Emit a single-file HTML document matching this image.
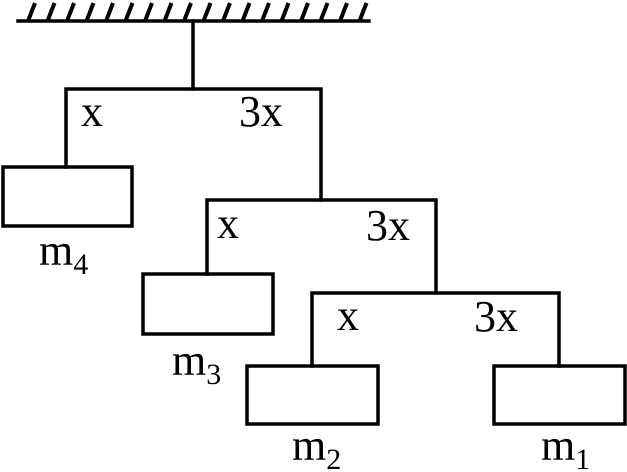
<!DOCTYPE html>
<html><head><style>html,body{margin:0;padding:0;background:#fff}svg{display:block}</style></head>
<body>
<svg width="627" height="472" viewBox="0 0 627 472" xmlns="http://www.w3.org/2000/svg">
<g stroke="#000" stroke-width="3.5" fill="none" stroke-linecap="square">
<line x1="18" y1="21" x2="369" y2="21"/>
<g stroke-width="4" stroke-linecap="butt">
<line x1="28" y1="21" x2="35" y2="3"/><line x1="47.5" y1="21" x2="54.5" y2="3"/><line x1="67" y1="21" x2="74" y2="3"/><line x1="86.5" y1="21" x2="93.5" y2="3"/><line x1="106" y1="21" x2="113" y2="3"/><line x1="125.5" y1="21" x2="132.5" y2="3"/><line x1="145" y1="21" x2="152" y2="3"/><line x1="164.5" y1="21" x2="171.5" y2="3"/><line x1="184" y1="21" x2="191" y2="3"/><line x1="203.5" y1="21" x2="210.5" y2="3"/><line x1="223" y1="21" x2="230" y2="3"/><line x1="242.5" y1="21" x2="249.5" y2="3"/><line x1="262" y1="21" x2="269" y2="3"/><line x1="281.5" y1="21" x2="288.5" y2="3"/><line x1="301" y1="21" x2="308" y2="3"/><line x1="320.5" y1="21" x2="327.5" y2="3"/><line x1="340" y1="21" x2="347" y2="3"/><line x1="359.5" y1="21" x2="366.5" y2="3"/>
</g>
<line x1="193" y1="21" x2="193" y2="89"/>
<polyline points="66,167 66,89 321,89 321,200"/>
<rect x="3" y="167" width="129" height="59"/>
<polyline points="207,274 207,200 436,200 436,293"/>
<rect x="143" y="274" width="130" height="60"/>
<polyline points="312,366 312,293 559,293 559,366"/>
<rect x="247" y="366" width="131" height="58"/>
<rect x="494" y="366" width="131" height="58"/>
</g>
<g font-family="Liberation Serif, serif" font-size="44" fill="#000">
<text x="81" y="126">x</text>
<text x="239" y="126">3x</text>
<text x="217" y="238">x</text>
<text x="366" y="240">3x</text>
<text x="337" y="330">x</text>
<text x="474" y="331">3x</text>
<text x="39" y="265">m<tspan font-size="30" dy="9">4</tspan></text>
<text x="172" y="375">m<tspan font-size="30" dy="9">3</tspan></text>
<text x="292" y="460">m<tspan font-size="30" dy="9">2</tspan></text>
<text x="541" y="460">m<tspan font-size="30" dy="9">1</tspan></text>
</g>
</svg>
</body></html>
